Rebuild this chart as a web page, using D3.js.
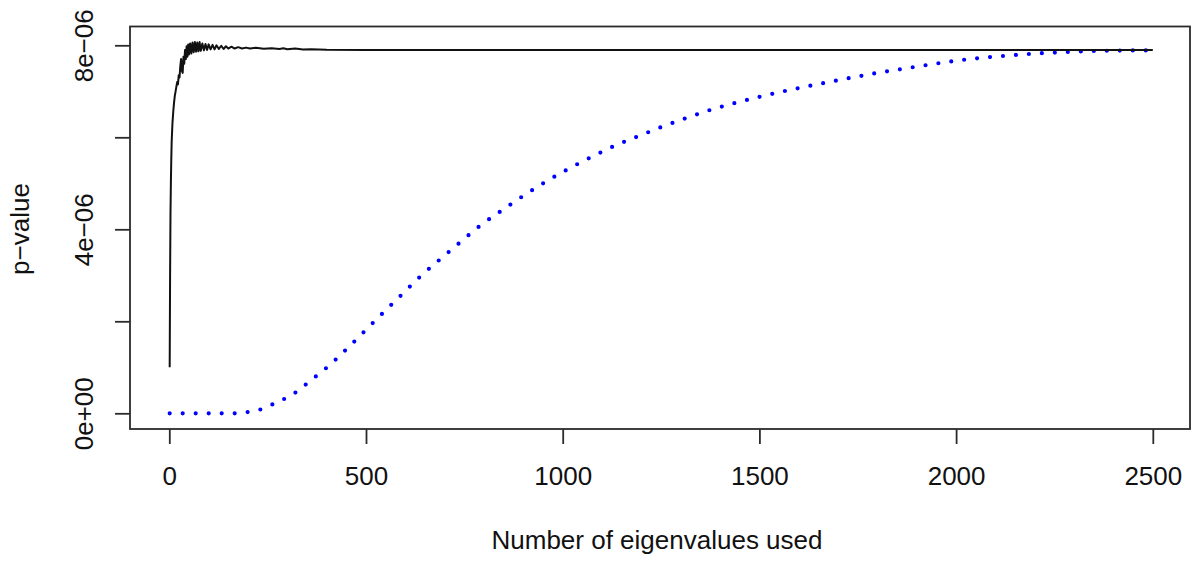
<!DOCTYPE html>
<html>
<head>
<meta charset="utf-8">
<script src="https://cdn.jsdelivr.net/npm/d3@7"></script>
<style>
  html, body { margin: 0; padding: 0; background: #fff; }
  svg { display: block; font-family: "Liberation Sans", Arial, Helvetica, sans-serif; }
</style>
</head>
<body>
<svg id="chart" width="1198" height="562"></svg>
<script>
// p-value as a function of the number of eigenvalues used (values in units of 1e-6)
const exactN = [1, 2, 3, 4, 5, 6, 8, 10, 12, 14, 16, 18, 20, 22, 24, 26, 28, 30, 32, 34, 36, 38, 40, 42, 44, 46, 48, 50,
  53, 56, 59, 62, 65, 68, 71, 74, 77, 80, 84, 88, 92, 96, 100, 105, 110, 115, 120, 126, 132, 138, 144, 150,
  158, 166, 175, 185, 195, 205, 220, 240, 260, 280, 290, 300, 320, 340, 360, 400, 500, 1000, 1500, 2000, 2500];
const exactP = [1.00, 3.00, 4.30, 5.00, 5.50, 5.90, 6.30, 6.55, 6.75, 6.90, 7.00, 7.10, 7.20, 7.15, 7.35, 7.30, 7.55, 7.70,
  7.45, 7.40, 7.75, 7.60, 7.90, 7.70, 7.98, 7.75, 8.02, 7.80, 8.04, 7.82, 8.06, 7.85, 8.07, 7.86, 8.06, 7.87, 8.07,
  7.88, 8.04, 7.89, 8.03, 7.90, 8.02, 7.91, 8.01, 7.91, 8.00, 7.92, 7.99, 7.92, 7.98, 7.93, 7.97, 7.93, 7.96, 7.93,
  7.95, 7.93, 7.945, 7.925, 7.935, 7.92, 7.935, 7.915, 7.93, 7.91, 7.915, 7.905, 7.90, 7.90, 7.90, 7.90, 7.90];

// approximation curve
const approxN = [1, 100, 170, 201, 234, 264, 294, 322, 349, 375, 401, 450, 497, 544, 592, 640, 690, 741, 792, 847, 902,
  958, 1016, 1075, 1136, 1197, 1259, 1321, 1385, 1449, 1500, 1600, 1700, 1800, 1873, 1940, 2005, 2070, 2138, 2200,
  2270, 2370, 2500];
const approxP = [0.00, 0.00, 0.00, 0.03, 0.09, 0.20, 0.32, 0.46, 0.64, 0.82, 1.00, 1.39, 1.79, 2.19, 2.59, 2.99, 3.36,
  3.73, 4.09, 4.42, 4.74, 5.04, 5.32, 5.58, 5.83, 6.04, 6.25, 6.44, 6.62, 6.77, 6.88, 7.07, 7.24, 7.40, 7.50, 7.59,
  7.67, 7.73, 7.78, 7.82, 7.85, 7.88, 7.89];

const xTicks = [0, 500, 1000, 1500, 2000, 2500];
const yTicks = [0, 2e-6, 4e-6, 6e-6, 8e-6];
const yTickLabels = ["0e+00", "", "4e\u221206", "", "8e\u221206"];

const xTitle = "Number of eigenvalues used";
const yTitle = "p\u2212value";

const svg = d3.select("#chart");
const box = { left: 130, right: 1190, top: 26.5, bottom: 429 };
const fontSize = 26;
const fontFamily = '"Liberation Sans", Arial, sans-serif';

const x = d3.scaleLinear().domain([0, 2500]).range([169.3, 1152.8]);
const y = d3.scaleLinear().domain([0, 8e-6]).range([413.3, 45.3]);

const exact = exactN.map((n, i) => ({ n, p: exactP[i] * 1e-6 }));
const approx = approxN.map((n, i) => ({ n, p: approxP[i] * 1e-6 }));

// plot frame
svg.append("rect")
  .attr("x", box.left).attr("y", box.top)
  .attr("width", box.right - box.left).attr("height", box.bottom - box.top)
  .attr("fill", "none").attr("stroke", "#2b2b2b").attr("stroke-width", 1.8);

// x axis
const gx = svg.append("g")
  .attr("transform", `translate(0,${box.bottom})`)
  .call(d3.axisBottom(x).tickValues(xTicks).tickFormat(d3.format("d")).tickSize(15));
gx.select(".domain").remove();
gx.selectAll(".tick line").attr("stroke", "#2b2b2b").attr("stroke-width", 1.8);
gx.selectAll(".tick text")
  .attr("y", 56).attr("dy", 0)
  .attr("fill", "#111").style("font-size", fontSize + "px")
  .style("font-family", fontFamily);

// y axis
const gy = svg.append("g")
  .attr("transform", `translate(${box.left},0)`)
  .call(d3.axisLeft(y).tickValues(yTicks).tickFormat((d, i) => yTickLabels[i]).tickSize(15));
gy.select(".domain").remove();
gy.selectAll(".tick line").attr("stroke", "#2b2b2b").attr("stroke-width", 1.8);
gy.selectAll(".tick text")
  .attr("x", 0).attr("dy", 0)
  .attr("text-anchor", "middle")
  .attr("transform", "translate(-37,0) rotate(-90)")
  .attr("fill", "#111").style("font-size", fontSize + "px")
  .style("font-family", fontFamily);

// axis titles
svg.append("text")
  .attr("x", 657).attr("y", 549)
  .attr("text-anchor", "middle")
  .attr("fill", "#111").style("font-size", fontSize + "px")
  .text(xTitle);

svg.append("text")
  .attr("transform", "translate(29,229) rotate(-90)")
  .attr("text-anchor", "middle")
  .attr("fill", "#111").style("font-size", fontSize + "px")
  .text(yTitle);

// approximation: blue dotted curve
svg.append("path")
  .datum(approx)
  .attr("fill", "none")
  .attr("stroke", "#0000ff")
  .attr("stroke-width", 4.2)
  .attr("stroke-linecap", "round")
  .attr("stroke-dasharray", "0 13")
  .attr("d", d3.line().x(d => x(d.n)).y(d => y(d.p)).curve(d3.curveMonotoneX));

// exact: black solid line
svg.append("path")
  .datum(exact)
  .attr("fill", "none")
  .attr("stroke", "#111")
  .attr("stroke-width", 2)
  .attr("stroke-linejoin", "round")
  .attr("d", d3.line().x(d => x(d.n)).y(d => y(d.p)));
</script>
</body>
</html>
